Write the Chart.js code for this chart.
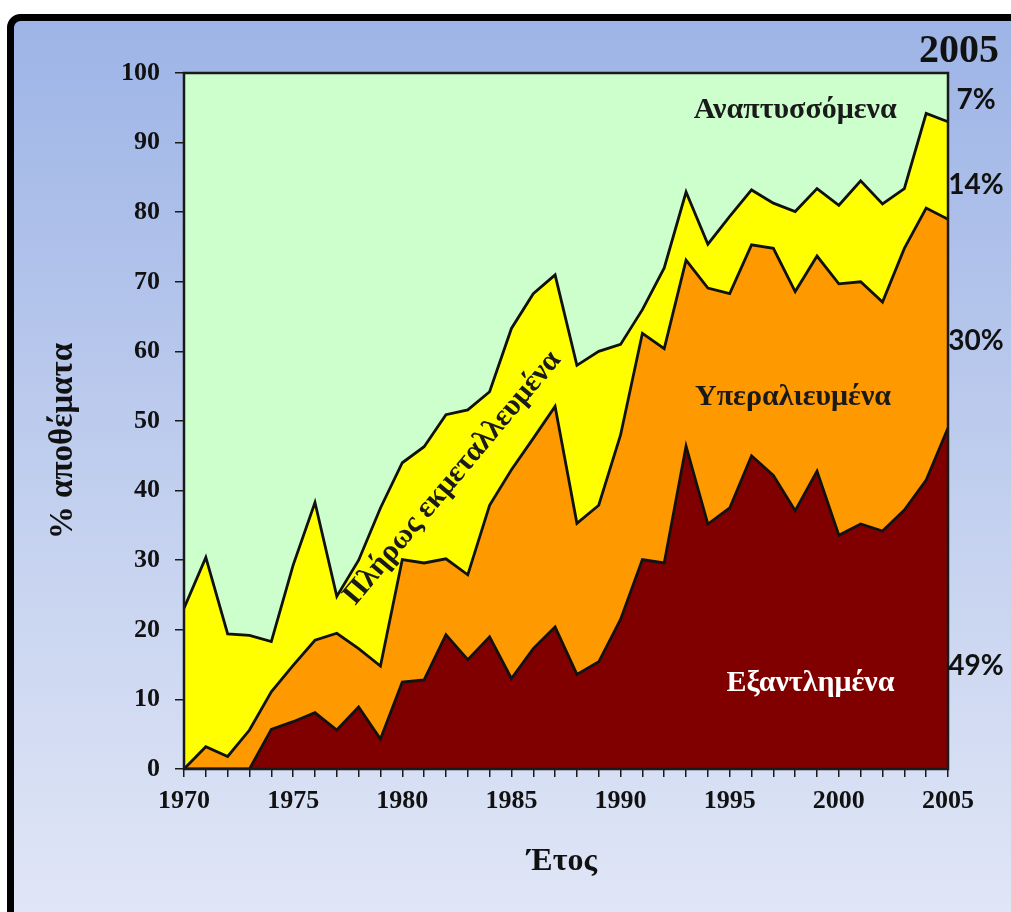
<!DOCTYPE html>
<html>
<head>
<meta charset="utf-8">
<script src="https://cdn.jsdelivr.net/npm/chart.js@4.4.1/dist/chart.umd.min.js"></script>
<style>
  html, body { margin: 0; padding: 0; background: #ffffff; overflow: hidden; }
  canvas { display: block; }
</style>
</head>
<body>
<canvas id="stocks" width="1011" height="912"></canvas>
<script>
// Years on the horizontal axis
const years = [1970, 1971, 1972, 1973, 1974, 1975, 1976, 1977, 1978, 1979,
               1980, 1981, 1982, 1983, 1984, 1985, 1986, 1987, 1988, 1989,
               1990, 1991, 1992, 1993, 1994, 1995, 1996, 1997, 1998, 1999,
               2000, 2001, 2002, 2003, 2004, 2005];
const labelledYears = [1970, 1975, 1980, 1985, 1990, 1995, 2000, 2005];
const yTicks = [0, 10, 20, 30, 40, 50, 60, 70, 80, 90, 100];

// Share of stocks (%) in each state, stacked from the bottom up
const depleted = [0, 0, 0, 0, 5.7, 6.8, 8.1, 5.6, 8.9, 4.3,
                  12.5, 12.8, 19.3, 15.7, 19.0, 13.0, 17.3, 20.4, 13.6, 15.4,
                  21.5, 30.1, 29.6, 46.4, 35.2, 37.5, 45.0, 42.2, 37.1, 42.8,
                  33.6, 35.2, 34.2, 37.2, 41.5, 49];
const overexploited = [0, 3.2, 1.8, 5.6, 5.4, 8.1, 10.4, 13.9, 8.4, 10.5,
                       17.6, 16.8, 10.9, 12.2, 18.9, 30.0, 30.2, 31.7, 21.7, 22.5,
                       26.5, 32.5, 30.8, 26.7, 33.9, 30.8, 30.3, 32.6, 31.5, 30.9,
                       36.1, 34.8, 32.9, 37.6, 39.1, 30];
const fullyExploited = [23.1, 27.2, 17.6, 13.6, 7.2, 14.4, 19.8, 5.3, 12.7, 22.7,
                        13.9, 16.7, 20.7, 23.7, 16.3, 20.3, 20.8, 18.9, 22.7, 22.1,
                        13.0, 3.4, 11.6, 9.8, 6.3, 11.1, 7.9, 6.5, 11.5, 9.7,
                        11.3, 14.5, 14.1, 8.6, 13.6, 14];
const developing = [76.9, 69.6, 80.6, 80.8, 81.7, 70.7, 61.7, 75.2, 70.0, 62.5,
                    56.0, 53.7, 49.1, 48.4, 45.8, 36.7, 31.7, 29.0, 42.0, 40.0,
                    39.0, 34.0, 28.0, 17.1, 24.6, 20.6, 16.8, 18.7, 19.9, 16.6,
                    19.0, 15.5, 18.8, 16.6, 5.8, 7];

const seriesNames = ['Εξαντλημένα', 'Υπεραλιευμένα', 'Πλήρως εκμεταλλευμένα', 'Αναπτυσσόμενα'];
const seriesColors = ['#800000', '#ff9900', '#ffff00', '#ccffcc'];

const SERIF = "'Liberation Serif', 'DejaVu Serif', serif";
const SANS = "Lato, 'Open Sans', 'Liberation Sans', sans-serif";

// Where each series name sits inside the plot: [year, percent, rotation in degrees, colour]
const areaLabelSpots = [
  [1998.7, 12.3, 0, '#ffffff'],
  [1997.9, 53.4, 0, '#1a1a1a'],
  [1982.3, 41.8, -50, '#1a1a1a'],
  [1998.0, 94.6, 0, '#1a1a1a']
];
// Height (percent) of the 2005 share labels to the right of the plot
const shareLabelLevels = [14.8, 61.5, 83.9, 96.1];

const panelBackground = {
  id: 'panelBackground',
  beforeDraw(chart) {
    const { ctx, width, height } = chart;
    ctx.save();
    ctx.fillStyle = '#ffffff';
    ctx.fillRect(0, 0, width, height);
    const grad = ctx.createLinearGradient(0, 20, 0, height);
    grad.addColorStop(0, '#9db4e6');
    grad.addColorStop(0.55, '#c3d0ef');
    grad.addColorStop(1, '#e0e6f6');
    ctx.beginPath();
    ctx.roundRect(10.5, 17.5, width + 60, height + 60, 10);
    ctx.fillStyle = grad;
    ctx.fill();
    ctx.lineWidth = 7;
    ctx.strokeStyle = '#000000';
    ctx.stroke();
    ctx.restore();
  }
};

const plotDecorations = {
  id: 'plotDecorations',
  afterDatasetsDraw(chart) {
    const { ctx, chartArea: a, scales: { x, y } } = chart;
    ctx.save();
    // frame round the plot area
    ctx.strokeStyle = '#1a1a1a';
    ctx.lineWidth = 2.5;
    ctx.strokeRect(a.left, a.top, a.right - a.left, a.bottom - a.top);

    // series names inside their bands
    ctx.textAlign = 'center';
    ctx.textBaseline = 'middle';
    ctx.font = 'bold 30px ' + SERIF;
    areaLabelSpots.forEach(([yr, pct, rot, col], i) => {
      const px = x.getPixelForValue(yr - years[0]);
      const py = y.getPixelForValue(pct);
      ctx.save();
      ctx.translate(px, py);
      ctx.rotate(rot * Math.PI / 180);
      ctx.fillStyle = col;
      ctx.fillText(seriesNames[i], 0, 0);
      ctx.restore();
    });

    // 2005 shares on the right
    const last = years.length - 1;
    const shares = [depleted[last], overexploited[last], fullyExploited[last], developing[last]];
    ctx.fillStyle = '#111111';
    ctx.font = 'bold 28px ' + SANS;
    const colX = a.right + 28;
    shares.forEach((v, i) => {
      ctx.fillText(v + '%', colX, y.getPixelForValue(shareLabelLevels[i]));
    });
    ctx.font = 'bold 40px ' + SERIF;
    ctx.fillText(String(years[last]), a.right + 11, a.top - 21);

    // axis titles
    ctx.font = 'bold 32px ' + SERIF;
    ctx.fillText('Έτος', (a.left + a.right) / 2 - 4, a.bottom + 93);
    ctx.font = 'bold 33px ' + SERIF;
    ctx.save();
    ctx.translate(63, (a.top + a.bottom) / 2 + 20);
    ctx.rotate(-Math.PI / 2);
    ctx.fillText('% αποθέματα', 0, 0);
    ctx.restore();
    ctx.restore();
  }
};

const seriesData = [depleted, overexploited, fullyExploited, developing];

new Chart(document.getElementById('stocks'), {
  type: 'line',
  data: {
    labels: years,
    datasets: seriesData.map((vals, i) => ({
      label: seriesNames[i],
      data: vals,
      backgroundColor: seriesColors[i],
      borderColor: '#111111',
      borderWidth: i === 3 ? 0 : 2.8,
      fill: i === 0 ? 'origin' : '-1',
      tension: 0,
      pointRadius: 0,
      borderJoinStyle: 'miter'
    }))
  },
  options: {
    responsive: false,
    animation: false,
    events: [],
    layout: { padding: { left: 0, top: 73, right: 63, bottom: 0 } },
    plugins: {
      legend: { display: false },
      tooltip: { enabled: false },
      filler: { propagate: false }
    },
    scales: {
      x: {
        type: 'category',
        offset: false,
        border: { display: false },
        grid: { drawOnChartArea: false, drawTicks: true, tickLength: 8, color: '#1a1a1a', lineWidth: 1.5 },
        ticks: {
          autoSkip: false,
          maxRotation: 0,
          minRotation: 0,
          padding: 9,
          color: '#111111',
          font: { family: SERIF, weight: 'bold', size: 26 },
          callback(value, index) {
            const yr = years[index];
            return labelledYears.includes(yr) ? String(yr) : '';
          }
        },
        afterFit(scale) { scale.height = 143; }
      },
      y: {
        stacked: true,
        min: yTicks[0],
        max: yTicks[yTicks.length - 1],
        border: { display: false },
        grid: { drawOnChartArea: false, drawTicks: true, tickLength: 9, color: '#1a1a1a', lineWidth: 1.5 },
        afterBuildTicks(scale) { scale.ticks = yTicks.map(v => ({ value: v })); },
        ticks: {
          padding: 15,
          color: '#111111',
          font: { family: SERIF, weight: 'bold', size: 26 }
        },
        afterFit(scale) { scale.width = 184; }
      }
    }
  },
  plugins: [panelBackground, plotDecorations]
});
</script>
</body>
</html>
